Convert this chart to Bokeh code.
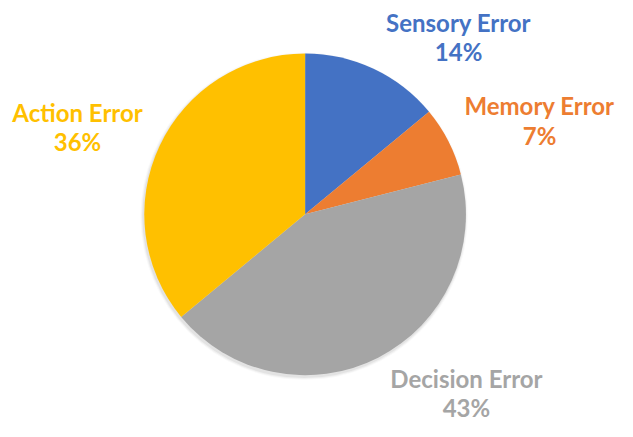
import math
from bokeh.plotting import figure
from bokeh.models import Range1d, ColumnDataSource
from bokeh.core.properties import value
from bokeh.embed import file_html
from bokeh.resources import INLINE

categories = ["Sensory Error", "Memory Error", "Decision Error", "Action Error"]
percents = [14, 7, 43, 36]
colors = ["#4472C4", "#ED7D31", "#A5A5A5", "#FFC000"]

# figure is 617x421 px; data space mirrors the 633x437 reference picture
W, H = 617, 421
RW, RH = 633, 437
cx, cy_ref, R = 312.5, 222, 165
def Y(ref_y):
    return RH - ref_y

total = sum(percents)
starts, ends = [], []
cum = 0.0
for v in percents:
    starts.append(math.pi / 2 - 2 * math.pi * cum / total)
    cum += v
    ends.append(math.pi / 2 - 2 * math.pi * cum / total)

p = figure(width=W, height=H, output_backend="svg", toolbar_location=None,
           x_range=Range1d(0, RW), y_range=Range1d(0, RH),
           min_border=0, outline_line_color=None)
p.axis.visible = False
p.grid.visible = False
p.background_fill_color = "white"
p.border_fill_color = "white"

# soft shadow
for i, a in enumerate([0.05, 0.035, 0.025]):
    p.circle(x=cx - 1, y=Y(cy_ref) - 2, radius=R + 1 + i, fill_color="black",
             fill_alpha=a, line_color=None)

src = ColumnDataSource(dict(start=starts, end=ends, color=colors, cat=categories))
p.wedge(x=cx, y=Y(cy_ref), radius=R, start_angle="start", end_angle="end",
        direction="clock", fill_color="color", line_color=None, source=src)

# label positions (centre x, baseline of line 1, baseline of line 2) in reference pixels
label_pos = [(470, 32, 62), (553, 119, 150), (478, 402, 432), (79, 126, 156)]
shift = 9.5  # compensates the renderer's baseline placement
for cat, pct, col, (lx, b1, b2) in zip(categories, percents, colors, label_pos):
    p.text(x=[lx, lx], y=[Y(b1 - shift), Y(b2 - shift)], text=[cat, f"{pct}%"],
           text_color=col, text_font=value("Lato"), text_font_style="bold",
           text_font_size="24px", text_align="center", text_baseline="alphabetic")

open("out.html", "w").write(file_html(p, INLINE))
